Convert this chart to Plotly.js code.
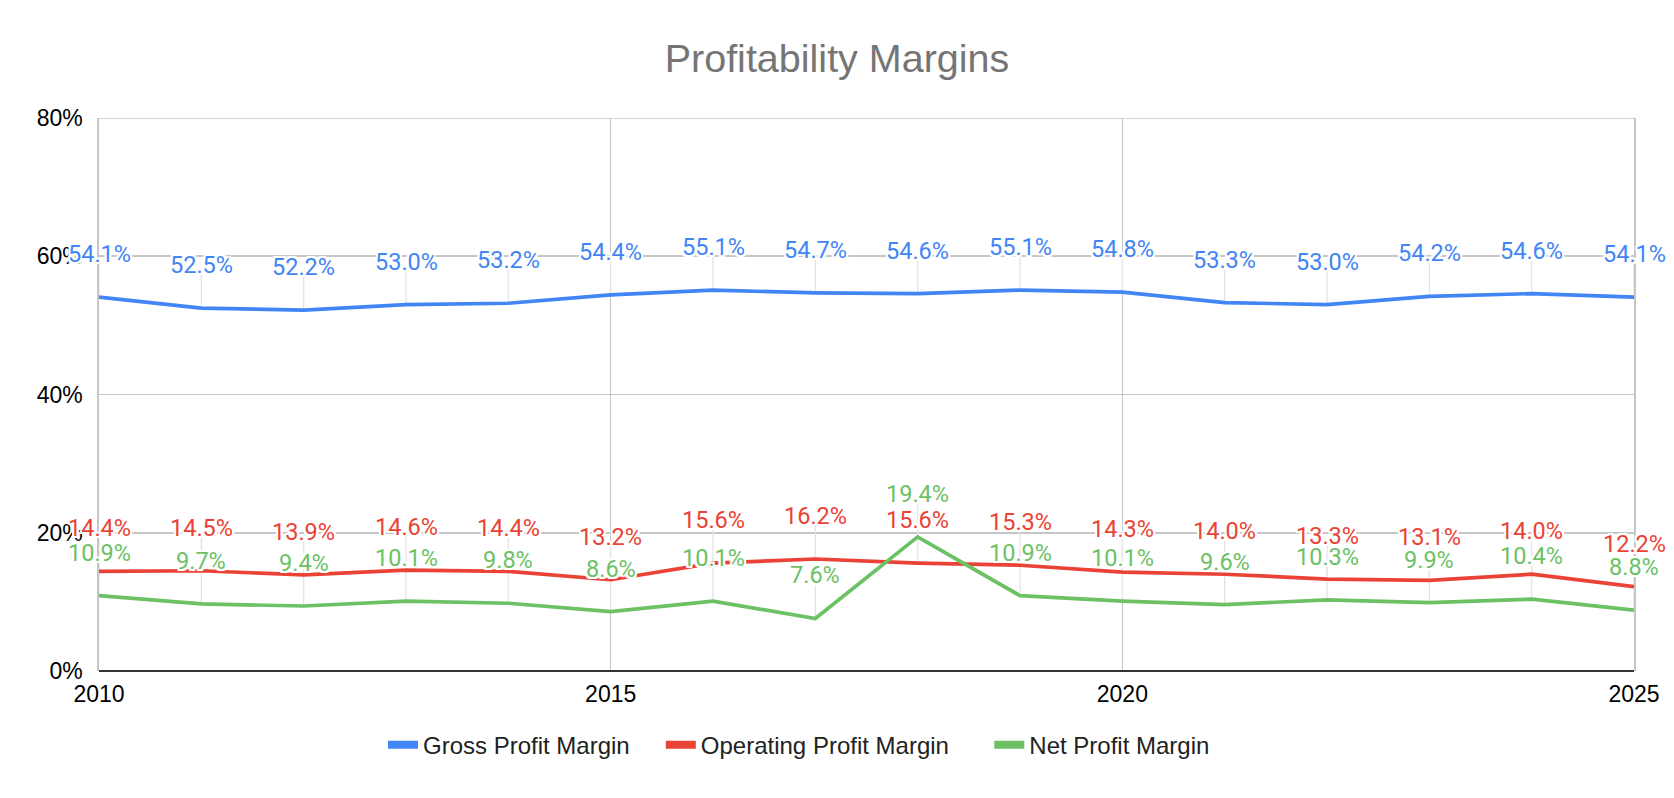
<!DOCTYPE html>
<html>
<head>
<meta charset="utf-8">
<script src="https://cdn.plot.ly/plotly-3.0.1.min.js"></script>
<style>
  html, body { margin: 0; padding: 0; background: #fff; }
  #plot { width: 1674px; height: 798px; }
</style>
</head>
<body>
<div id="plot"></div>
<script>
var years = [2010, 2011, 2012, 2013, 2014, 2015, 2016, 2017, 2018, 2019, 2020, 2021, 2022, 2023, 2024, 2025];
var grossMargin = [54.1, 52.5, 52.2, 53.0, 53.2, 54.4, 55.1, 54.7, 54.6, 55.1, 54.8, 53.3, 53.0, 54.2, 54.6, 54.1];
var operatingMargin = [14.4, 14.5, 13.9, 14.6, 14.4, 13.2, 15.6, 16.2, 15.6, 15.3, 14.3, 14.0, 13.3, 13.1, 14.0, 12.2];
var netMargin = [10.9, 9.7, 9.4, 10.1, 9.8, 8.6, 10.1, 7.6, 19.4, 10.9, 10.1, 9.6, 10.3, 9.9, 10.4, 8.8];
var yTicks = [0, 20, 40, 60, 80];
var xTicks = [2010, 2015, 2020, 2025];

var series = [
    { name: 'Gross Profit Margin', values: grossMargin, color: '#4285F4', legend: 'legend', lx: 0.185 },
    { name: 'Operating Profit Margin', values: operatingMargin, color: '#EA4335', legend: 'legend2', lx: 0.366 },
    { name: 'Net Profit Margin', values: netMargin, color: '#6CC165', legend: 'legend3', lx: 0.58 }
];

var halo = '2px 2px 0 #fff, -2px -2px 0 #fff, 2px -2px 0 #fff, -2px 2px 0 #fff, 0 2px 0 #fff, 0 -2px 0 #fff, 2px 0 0 #fff, -2px 0 0 #fff';
var gridGray = '#c6c6c6';

// light leader lines from each point up toward its label
var leadX = [], leadY = [];
series.forEach(function (s) {
    for (var i = 0; i < years.length; i++) {
        leadX.push(years[i], years[i], null);
        leadY.push(s.values[i], s.values[i] + 4.8, null);
    }
});

var data = [{
    type: 'scatter', mode: 'lines',
    x: leadX, y: leadY,
    line: { color: '#e4e4e4', width: 1.3 },
    hoverinfo: 'skip', showlegend: false
}];

series.forEach(function (s) {
    data.push({
        type: 'scatter', mode: 'lines',
        name: s.name,
        x: years, y: s.values,
        line: { color: s.color, width: 3.7 },
        showlegend: false
    });
});

// legend-only entries so the key shows a thick bar, one legend box each
series.forEach(function (s) {
    data.push({
        type: 'scatter', mode: 'lines',
        name: s.name,
        x: [null], y: [null],
        line: { color: s.color, width: 8 },
        showlegend: true,
        legend: s.legend
    });
});

var annotations = [];
series.forEach(function (s) {
    for (var i = 0; i < years.length; i++) {
        annotations.push({
            x: years[i], y: s.values[i],
            xref: 'x', yref: 'y',
            text: s.values[i].toFixed(1) + '%',
            showarrow: false,
            yshift: 43,
            font: { family: 'Roboto, Arial, sans-serif', size: 23.5, color: s.color, shadow: halo }
        });
    }
});

var legendFont = { family: 'Arial, Liberation Sans, sans-serif', size: 24, color: '#222' };
function legendBox(x) {
    return {
        orientation: 'h',
        x: x, xanchor: 'left',
        y: -0.134, yanchor: 'middle',
        font: legendFont,
        itemwidth: 30,
        bgcolor: 'rgba(0,0,0,0)'
    };
}

var layout = {
    width: 1674,
    height: 798,
    margin: { l: 99, r: 40, t: 118, b: 127 },
    paper_bgcolor: '#fff',
    plot_bgcolor: '#fff',
    title: {
        text: 'Profitability Margins',
        font: { family: 'Arial, Liberation Sans, sans-serif', size: 39.5, color: '#757575' },
        x: 0.5, xanchor: 'center',
        y: 1 - 58 / 798, yref: 'container', yanchor: 'middle'
    },
    xaxis: {
        range: [2010, 2025],
        tickvals: xTicks,
        ticktext: xTicks.map(String),
        showgrid: true,
        gridcolor: gridGray,
        gridwidth: 1.6,
        zeroline: false,
        showline: false,
        ticks: '',
        ticklabelstandoff: 7,
        tickfont: { family: 'Arial, Liberation Sans, sans-serif', size: 23, color: '#000' }
    },
    yaxis: {
        range: [0, 80],
        tickvals: yTicks,
        ticktext: yTicks.map(function (v) { return v + '%'; }),
        showgrid: true,
        gridcolor: gridGray,
        gridwidth: 1.6,
        zeroline: true,
        zerolinecolor: '#333333',
        zerolinewidth: 2.5,
        showline: true,
        mirror: true,
        linecolor: gridGray,
        linewidth: 1.6,
        ticks: '',
        ticklabelstandoff: 10,
        tickfont: { family: 'Arial, Liberation Sans, sans-serif', size: 23, color: '#000' }
    },
    shapes: [{
        type: 'line', layer: 'below',
        xref: 'paper', x0: 0, x1: 1,
        yref: 'y', y0: yTicks[yTicks.length - 1], y1: yTicks[yTicks.length - 1],
        line: { color: gridGray, width: 1.6 }
    }],
    showlegend: true,
    legend: legendBox(series[0].lx),
    legend2: legendBox(series[1].lx),
    legend3: legendBox(series[2].lx),
    annotations: annotations
};

Plotly.newPlot('plot', data, layout, { displayModeBar: false, staticPlot: true });
</script>
</body>
</html>
